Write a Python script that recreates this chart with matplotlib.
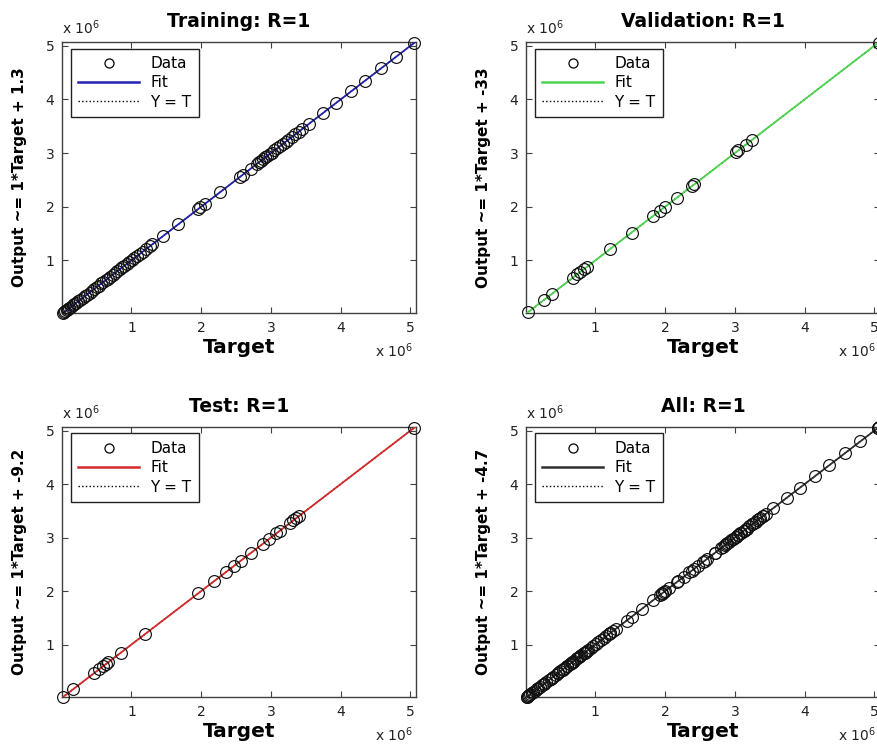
import matplotlib
matplotlib.use('Agg')
import matplotlib.pyplot as plt
from matplotlib.lines import Line2D

plt.rcParams['font.family'] = ['DejaVu Sans']

# Targets (x 10^6); outputs coincide with targets (R = 1)
train_targets = [0.02, 0.04, 0.05, 0.07, 0.09, 0.11, 0.13, 0.16, 0.18, 0.21, 0.24, 0.27,
                 0.30, 0.33, 0.36, 0.40, 0.43, 0.46, 0.50, 0.53, 0.57, 0.60, 0.63, 0.66,
                 0.70, 0.73, 0.77, 0.80, 0.84, 0.87, 0.90, 0.94, 0.97, 1.01, 1.04, 1.08,
                 1.12, 1.16, 1.21, 1.26, 1.30, 1.45, 1.67, 1.95, 1.99, 2.05, 2.27, 2.55,
                 2.60, 2.71, 2.80, 2.83, 2.86, 2.89, 2.92, 2.95, 2.98, 3.01, 3.05, 3.09,
                 3.13, 3.17, 3.21, 3.25, 3.30, 3.35, 3.40, 3.45, 3.55, 3.75, 3.93, 4.15,
                 4.35, 4.58, 4.80, 5.05]
val_targets = [0.04, 0.27, 0.38, 0.68, 0.74, 0.78, 0.84, 0.88, 1.21, 1.52, 1.83, 1.93,
               2.00, 2.17, 2.38, 2.42, 3.02, 3.05, 3.16, 3.25, 5.06]
test_targets = [0.02, 0.17, 0.47, 0.54, 0.59, 0.64, 0.67, 0.85, 1.20, 1.96, 2.18, 2.35,
                2.47, 2.57, 2.72, 2.88, 2.97, 3.08, 3.13, 3.27, 3.32, 3.36, 3.40, 5.05]
all_targets = train_targets + val_targets + test_targets

datasets = [train_targets, val_targets, test_targets, all_targets]
titles = ['Training: R=1', 'Validation: R=1', 'Test: R=1', 'All: R=1']
slopes = [1, 1, 1, 1]
offsets = [1.3, -33, -9.2, -4.7]
ylabels = ['Output ~= 1*Target + 1.3', 'Output ~= 1*Target + -33',
           'Output ~= 1*Target + -9.2', 'Output ~= 1*Target + -4.7']
fit_colors = ['#2323b0', '#4cd44c', '#d42a2a', '#303030']
tick_vals = [1, 2, 3, 4, 5]
tick_labels = ['1', '2', '3', '4', '5']
xlim = (0.005, 5.08)
ylim = (0.02, 5.07)

fig = plt.figure(figsize=(8.78, 7.44), dpi=100)
positions = [[0.0706, 0.5793, 0.4032, 0.3642],
             [0.5990, 0.5793, 0.4032, 0.3642],
             [0.0706, 0.0632, 0.4032, 0.3630],
             [0.5990, 0.0632, 0.4032, 0.3630]]

spine_col = '#404040'
for pos, data, title, m, b, ylab, col in zip(positions, datasets, titles, slopes,
                                              offsets, ylabels, fit_colors):
    ax = fig.add_axes(pos)
    x_line = [xlim[0], xlim[1]]
    ax.plot(x_line, x_line, ls=':', color='k', lw=1.0, zorder=2)
    ax.plot(x_line, [m * v + b / 1e6 for v in x_line], color=col, lw=1.3, zorder=3)
    ax.plot(data, data, ls='none', marker='o', ms=8.5, mfc='none', mec='#111111',
            mew=0.85, zorder=4, clip_on=False)
    ax.set_xlim(*xlim)
    ax.set_ylim(*ylim)
    ax.set_xticks(tick_vals)
    ax.set_xticklabels(tick_labels)
    ax.set_yticks(tick_vals)
    ax.set_yticklabels(tick_labels)
    ax.tick_params(direction='in', top=True, right=True, length=4, width=0.8,
                   color=spine_col, labelsize=10, pad=5.5, labelcolor='#222222')
    for s in ax.spines.values():
        s.set_color(spine_col)
        s.set_linewidth(1.0)
    ax.text(0.5, 1.076, title, transform=ax.transAxes, ha='center', va='center',
            fontsize=13.5, fontweight='bold')
    ax.text(0.5, -0.129, 'Target', transform=ax.transAxes, ha='center', va='center',
            fontsize=14.5, fontweight='bold')
    ax.text(-0.119, 0.5, ylab, transform=ax.transAxes, ha='center', va='center',
            rotation=90, fontsize=11, fontweight='bold')
    ax.text(0.0, 1.052, r'x $10^{6}$', transform=ax.transAxes, ha='left', va='center',
            fontsize=10, color='#222222')
    ax.text(0.99, -0.14, r'x $10^{6}$', transform=ax.transAxes, ha='right', va='center',
            fontsize=10, color='#222222')
    handles = [Line2D([], [], ls='none', marker='o', ms=6.5, mfc='none', mec='k', mew=0.9),
               Line2D([], [], color=col, lw=1.8),
               Line2D([], [], color='k', ls=':', lw=1.0)]
    leg = ax.legend(handles, ['Data', 'Fit', 'Y = T'], loc='upper left',
                    bbox_to_anchor=(0.0246, 0.976), borderaxespad=0, frameon=True,
                    fancybox=False, edgecolor='#222222', fontsize=11, handlelength=4.0,
                    handletextpad=0.7, borderpad=0.5, labelspacing=0.28, framealpha=1)
    leg.get_frame().set_linewidth(1.0)

fig.savefig('out.png', dpi=100)
